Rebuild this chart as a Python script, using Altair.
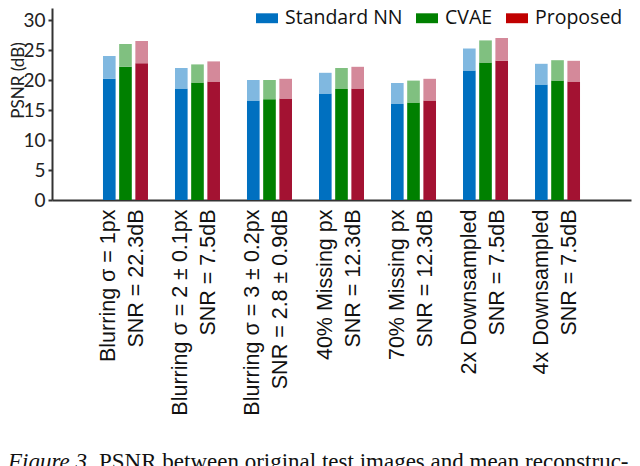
import altair as alt
import pandas as pd

categories = [
    "Blurring σ = 1px\nSNR = 22.3dB",
    "Blurring σ = 2 ± 0.1px\nSNR = 7.5dB",
    "Blurring σ = 3 ± 0.2px\nSNR = 2.8 ± 0.9dB",
    "40% Missing px\nSNR = 12.3dB",
    "70% Missing px\nSNR = 12.3dB",
    "2x Downsampled\nSNR = 7.5dB",
    "4x Downsampled\nSNR = 7.5dB",
]
series = ["Standard NN", "CVAE", "Proposed"]

std_base = [20.2, 18.6, 16.6, 17.75, 16.0, 21.6, 19.25]
std_top = [24.0, 22.0, 20.0, 21.2, 19.5, 25.25, 22.7]
cvae_base = [22.2, 19.6, 16.8, 18.5, 16.25, 22.9, 19.9]
cvae_top = [26.0, 22.6, 20.0, 22.0, 19.9, 26.6, 23.3]
prop_base = [22.8, 19.75, 16.9, 18.6, 16.6, 23.2, 19.75]
prop_top = [26.5, 23.1, 20.2, 22.2, 20.2, 27.0, 23.2]

dark_colors = ["#0070C0", "#008000", "#A31232"]
light_colors = ["#80B8E0", "#80C080", "#D4899A"]
legend_colors = ["#0070C0", "#008000", "#C00000"]

rows = []
for s, b, t in zip(series, [std_base, cvae_base, prop_base], [std_top, cvae_top, prop_top]):
    for c, bv, tv in zip(categories, b, t):
        rows.append({"cat": c, "series": s, "base": bv, "top": tv, "zero": 0})
df = pd.DataFrame(rows)

x_enc = alt.X(
    "cat:N",
    sort=categories,
    scale=alt.Scale(paddingInner=0.375, paddingOuter=0.708),
    axis=alt.Axis(
        title=None,
        labelAngle=-90,
        labelAlign="right",
        labelBaseline="middle",
        labelExpr="split(datum.label, '\\n')",
        labelFont="Liberation Sans",
        labelFontSize=21.5,
        labelLineHeight=28,
        labelColor="#111111",
        labelPadding=9,
        labelOffset=-16,
        ticks=False,
        domainColor="#333333",
        domainWidth=2,
        labelLimit=400,
    ),
)
xoff = alt.XOffset("series:N", sort=series, scale=alt.Scale(paddingInner=0.22, paddingOuter=0))
y_scale = alt.Scale(domain=[0, 32], nice=False)
y_axis = alt.Axis(
    title="PSNR (dB)",
    values=[0, 5, 10, 15, 20, 25, 30],
    labelOverlap=False,
    grid=False,
    labelFont="Lato",
    labelFontSize=19,
    labelColor="#222222",
    labelPadding=3,
    tickSize=4,
    tickWidth=2,
    tickColor="#333333",
    domainColor="#333333",
    domainWidth=2,
    titleFont="Lato",
    titleFontSize=17,
    titleFontWeight="normal",
    titleColor="#222222",
    titleX=-42,
    titleY=72,
    titleAngle=-90,
    titleAlign="center",
    titleBaseline="top",
)

base = alt.Chart(df)

dark = base.mark_bar().encode(
    x=x_enc,
    xOffset=xoff,
    y=alt.Y("zero:Q", scale=y_scale, axis=y_axis),
    y2="base:Q",
    color=alt.Color("series:N", sort=series,
                    scale=alt.Scale(domain=series, range=dark_colors), legend=None),
)
light = base.mark_bar().encode(
    x=x_enc,
    xOffset=xoff,
    y=alt.Y("base:Q", scale=y_scale, axis=y_axis),
    y2="top:Q",
    color=alt.Color("series:N", sort=series,
                    scale=alt.Scale(domain=series, range=light_colors), legend=None),
)

leg_df = pd.DataFrame({"legser": series})
legend_layer = alt.Chart(leg_df).mark_point(opacity=0, filled=True, size=0).encode(
    color=alt.Color(
        "legser:N",
        sort=series,
        scale=alt.Scale(domain=series, range=legend_colors),
        legend=alt.Legend(
            title=None,
            orient="none",
            direction="horizontal",
            legendX=204,
            legendY=-1,
            symbolType="M-1,-0.45H1V0.45H-1Z",
            symbolSize=484,
            symbolOpacity=1,
            symbolStrokeWidth=0,
            labelFont="Open Sans",
            labelFontSize=19.5,
            labelColor="#111111",
            labelOffset=7,
            columnPadding=13,
            labelLimit=300,
        ),
    )
)

cap1 = alt.Chart(pd.DataFrame({"t": ["Figure 3."]})).mark_text(
    font="Liberation Serif", fontSize=23, fontStyle="italic", align="left",
    baseline="alphabetic", color="#111111",
).encode(text="t:N", x=alt.value(-44), y=alt.value(461))
cap2 = alt.Chart(pd.DataFrame({"t": ["PSNR between original test images and mean reconstruc-"]})).mark_text(
    font="Liberation Serif", fontSize=23, align="left",
    baseline="alphabetic", color="#111111",
).encode(text="t:N", x=alt.value(47), y=alt.value(461))

chart = alt.layer(dark, light, legend_layer, cap1, cap2).resolve_scale(
    color="independent"
).properties(
    width=579,
    height=192,
    autosize=alt.AutoSizeParams(type="none"),
    padding={"left": 44, "top": 0, "right": 1, "bottom": 266},
).configure_view(stroke=None)

chart.save("out.html", embed_options={"renderer": "svg", "actions": False})
